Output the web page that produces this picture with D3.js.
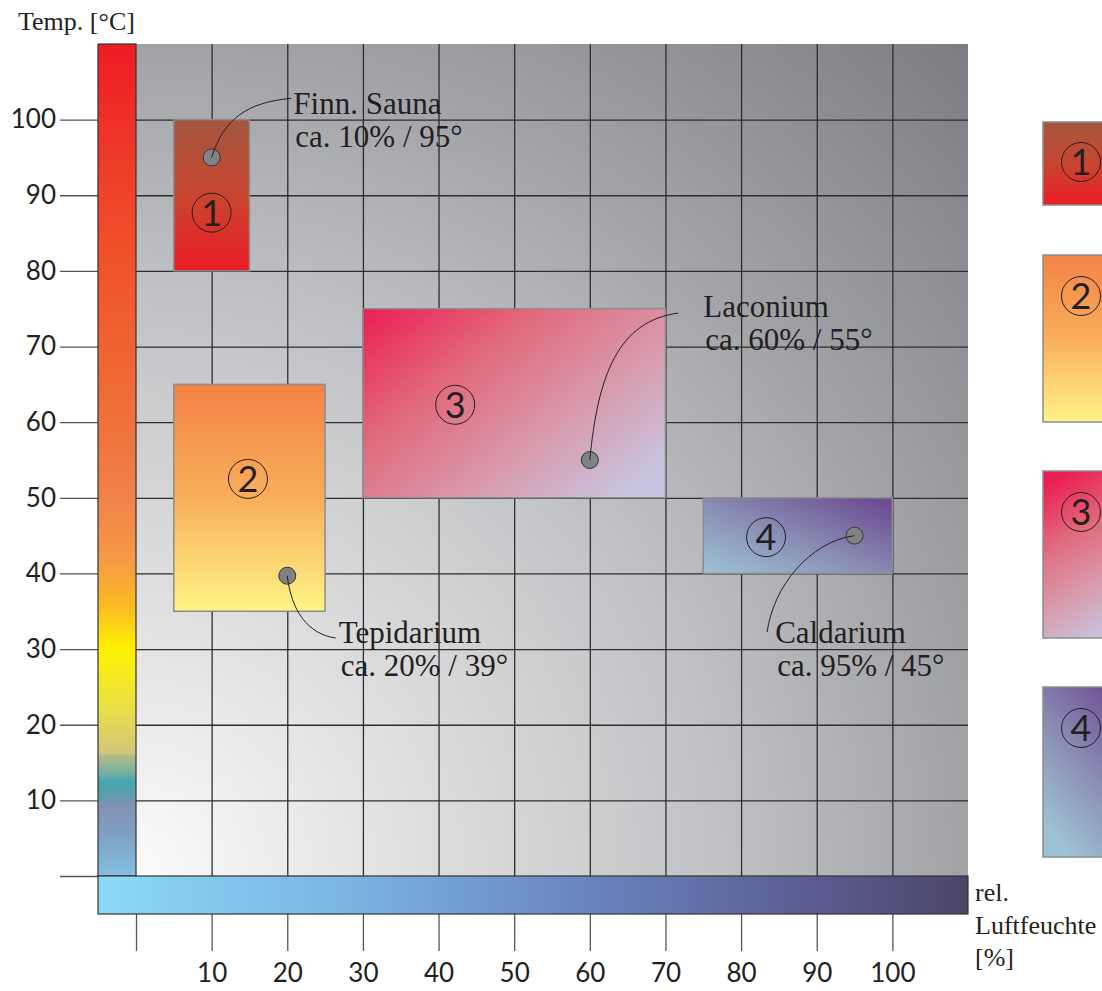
<!DOCTYPE html>
<html>
<head>
<meta charset="utf-8">
<script src="https://cdn.jsdelivr.net/npm/d3@7"></script>
<style>
  body { margin: 0; background: #fff; }
  svg { display: block; }
</style>
</head>
<body>
<div id="chart"></div>
<script>
// zones (rel. humidity in %, temperature in °C)
const zoneNames = ["Finn. Sauna", "Tepidarium", "Laconium", "Caldarium"];
const zoneCaptions = ["ca. 10% / 95°", "ca. 20% / 39°", "ca. 60% / 55°", "ca. 95% / 45°"];
const humMin = [5, 5, 30, 75];
const humMax = [15, 25, 70, 100];
const tempMin = [80, 35, 50, 40];
const tempMax = [100, 65, 75, 50];
const pointHum = [10, 20, 60, 95];
const pointTemp = [95, 39.7, 55, 45];
// where the circled numbers and labels sit, in data units
const numHum = [10, 14.8, 42.2, 83.3];
const numTemp = [87.7, 52.5, 62.3, 44.8];
const labelHum = [20.8, 26.8, 75.0, 84.5];
const labelTemp = [100.7, 30.8, 73.9, 30.8];
const xTicks = [0, 10, 20, 30, 40, 50, 60, 70, 80, 90, 100];
const yTicks = [0, 10, 20, 30, 40, 50, 60, 70, 80, 90, 100];

const W = 1102, H = 991;
const x = d3.scaleLinear().domain([0, 110]).range([136, 968]);
const y = d3.scaleLinear().domain([0, 110]).range([876, 44]);
const barW = 38;

const svg = d3.select("#chart").append("svg")
    .attr("width", W).attr("height", H);
const defs = svg.append("defs");

function linGrad(id, stops, x1, y1, x2, y2) {
    const g = defs.append("linearGradient").attr("id", id)
        .attr("x1", x1).attr("y1", y1).attr("x2", x2).attr("y2", y2);
    stops.forEach(s => g.append("stop").attr("offset", s[0]).attr("stop-color", s[1]));
}

// background of the plot area
const bg = defs.append("radialGradient").attr("id", "bg")
    .attr("gradientUnits", "userSpaceOnUse")
    .attr("cx", x(0)).attr("cy", y(0)).attr("r", 1176);
[[0, "#fbfbfb"], [0.15, "#e9e9ea"], [0.5, "#c0c1c4"], [0.7, "#a3a4a8"], [1, "#7c7d82"]]
    .forEach(s => bg.append("stop").attr("offset", s[0]).attr("stop-color", s[1]));

// temperature bar colours (by °C)
const tempStops = [[110, "#ed1c24"], [95, "#ee3a29"], [80, "#ef5529"], [60, "#f07139"],
    [50, "#f0824a"], [42, "#f59a46"], [36, "#fbb826"], [30, "#fff200"], [22, "#e9df48"],
    [16.2, "#d1c57a"], [16, "#b5bd86"], [14.8, "#97b693"], [13.5, "#72aea4"], [12.5, "#45a5b0"],
    [10.6, "#5e9dae"], [9.3, "#8490b5"], [5, "#7ea3c6"], [0, "#84bfe0"]];
linGrad("tbar", tempStops.map(s => [(110 - s[0]) / 110, s[1]]), 0, 0, 0, 1);
linGrad("hbar", [[0, "#8bd9f8"], [0.3, "#7ab2e0"], [0.55, "#6a86c0"], [0.8, "#5c5f96"], [1, "#4b4567"]], 0, 0, 1, 0);

const zoneGrads = [
    [[0, "#a4573f"], [0.5, "#c8452f"], [1, "#ed1c24"]],
    [[0, "#f38346"], [0.5, "#f9ae5c"], [1, "#fff484"]],
    [[0, "#ec1e53"], [0.35, "#e1697c"], [0.7, "#d89bad"], [1, "#c8c3de"]],
    [[0, "#9ec3d4"], [0.45, "#8a8fb5"], [1, "#6a458d"]]
];
const gradDirs = [[0, 0, 0, 1], [0, 0, 0, 1], [0, 0, 1, 0.8], [0, 1, 1, 0]];
zoneGrads.forEach((s, i) => linGrad("z" + i, s, ...gradDirs[i]));
const legendDirs = [[0, 0, 0, 1], [0, 0, 0, 1], [0.3, 0, 0.6, 1], [0.3, 1, 0.9, 0]];
zoneGrads.forEach((s, i) => linGrad("l" + i, s, ...legendDirs[i]));

// plot background
svg.append("rect")
    .attr("x", x(0)).attr("y", y(110))
    .attr("width", x(110) - x(0)).attr("height", y(0) - y(110))
    .attr("fill", "url(#bg)");

// grid
svg.append("g").attr("transform", `translate(0,${y(0)})`)
    .call(d3.axisBottom(x).tickValues(xTicks.filter(d => d > 0)).tickSize(-(y(0) - y(110))).tickFormat(""))
    .call(g => g.select(".domain").remove())
    .selectAll("line").attr("stroke", "#2e2e30").attr("stroke-width", 1.3);
svg.append("g").attr("transform", `translate(${x(0)},0)`)
    .call(d3.axisLeft(y).tickValues(yTicks.filter(d => d > 0)).tickSize(-(x(110) - x(0))).tickFormat(""))
    .call(g => g.select(".domain").remove())
    .selectAll("line").attr("stroke", "#2e2e30").attr("stroke-width", 1.3);

// axes with labels
const sans = "Lato, 'DejaVu Sans', sans-serif";
const yAxis = svg.append("g").attr("transform", `translate(${x(0) - barW},0)`)
    .call(d3.axisLeft(y).tickValues(yTicks).tickSize(barW).tickPadding(4)
        .tickFormat(d => d === 0 ? "" : d));
const xAxis = svg.append("g").attr("transform", `translate(0,${y(0) + barW})`)
    .call(d3.axisBottom(x).tickValues(xTicks).tickSize(37).tickPadding(13)
        .tickFormat(d => d === 0 ? "" : d));
[yAxis, xAxis].forEach(a => {
    a.select(".domain").remove();
    a.selectAll("line").attr("stroke", "#555").attr("stroke-width", 1.3);
    a.selectAll("text").attr("fill", "#231f20")
        .style("font-family", sans).style("font-size", "26px");
});

// colour bars
svg.append("rect")
    .attr("x", x(0) - barW).attr("y", y(110))
    .attr("width", barW).attr("height", y(0) - y(110))
    .attr("fill", "url(#tbar)").attr("stroke", "#333").attr("stroke-width", 1.2);
svg.append("rect")
    .attr("x", x(0) - barW).attr("y", y(0))
    .attr("width", x(110) - x(0) + barW).attr("height", barW)
    .attr("fill", "url(#hbar)").attr("stroke", "#333").attr("stroke-width", 1.2);

// zone boxes
const idx = d3.range(zoneNames.length);
svg.append("g").selectAll("rect").data(idx).join("rect")
    .attr("x", i => x(humMin[i])).attr("y", i => y(tempMax[i]))
    .attr("width", i => x(humMax[i]) - x(humMin[i]))
    .attr("height", i => y(tempMin[i]) - y(tempMax[i]))
    .attr("fill", i => `url(#z${i})`)
    .attr("stroke", "#8c8c90").attr("stroke-width", 1.5);

function circledNumber(g, cx, cy, n) {
    g.append("circle").attr("cx", cx).attr("cy", cy).attr("r", 19.5)
        .attr("fill", "none").attr("stroke", "#231f20").attr("stroke-width", 1);
    g.append("text").attr("x", cx).attr("y", cy).attr("dy", "0.36em")
        .attr("text-anchor", "middle").attr("fill", "#231f20")
        .style("font-family", sans).style("font-size", "36px")
        .text(n);
}
const nums = svg.append("g");
idx.forEach(i => circledNumber(nums, x(numHum[i]), y(numTemp[i]), i + 1));

// measured points
svg.append("g").selectAll("circle").data(idx).join("circle")
    .attr("cx", i => x(pointHum[i])).attr("cy", i => y(pointTemp[i])).attr("r", 8.5)
    .attr("fill", "#808285").attr("stroke", "#333").attr("stroke-width", 1);

// leader lines: control point offsets from start and end
const leaderShape = [
    [[12, -38], [-45, 4], [-2, -16]],
    [[4, 35], [-28, -4], [-3, -5]],
    [[8, -85], [-60, 8], [-25, -4]],
    [[-45, 6], [6, -45], [-8, -11]]
];
const leaders = svg.append("g");
idx.forEach(i => {
    const px = x(pointHum[i]), py = y(pointTemp[i]);
    const [c1, c2, e] = leaderShape[i];
    const ex = x(labelHum[i]) + e[0], ey = y(labelTemp[i]) + e[1];
    const p = d3.path();
    p.moveTo(px, py);
    p.bezierCurveTo(px + c1[0], py + c1[1], ex + c2[0], ey + c2[1], ex, ey);
    leaders.append("path").attr("d", p.toString())
        .attr("fill", "none").attr("stroke", "#231f20").attr("stroke-width", 1);
});

// zone labels
const serif = "'Liberation Serif', 'Times New Roman', serif";
idx.forEach(i => {
    const t = svg.append("text")
        .attr("x", x(labelHum[i])).attr("y", y(labelTemp[i]))
        .attr("fill", "#231f20")
        .style("font-family", serif).style("font-size", "31px");
    t.append("tspan").text(zoneNames[i]);
    t.append("tspan").attr("x", x(labelHum[i]) + 2).attr("dy", 32.5).text(zoneCaptions[i]);
});

// axis titles
svg.append("text").attr("x", 18).attr("y", 30)
    .attr("fill", "#231f20").style("font-family", serif).style("font-size", "26px")
    .text("Temp. [°C]");
const ht = svg.append("text").attr("fill", "#231f20")
    .style("font-family", serif).style("font-size", "26px");
["rel.", "Luftfeuchte", "[%]"].forEach((s, k) =>
    ht.append("tspan").attr("x", 975).attr("y", 901 + k * 32.5).text(s));

// legend on the right (partly outside the page)
const legendTop = [122, 255, 471, 687];
const legendH = [83, 167, 167, 170];
const leg = svg.append("g");
idx.forEach(i => {
    leg.append("rect").attr("x", 1043).attr("y", legendTop[i])
        .attr("width", 90).attr("height", legendH[i])
        .attr("fill", `url(#l${i})`).attr("stroke", "#8c8c90").attr("stroke-width", 1.5);
    circledNumber(leg, 1081, legendTop[i] + (i === 0 ? 40 : 41), i + 1);
});
</script>
</body>
</html>
